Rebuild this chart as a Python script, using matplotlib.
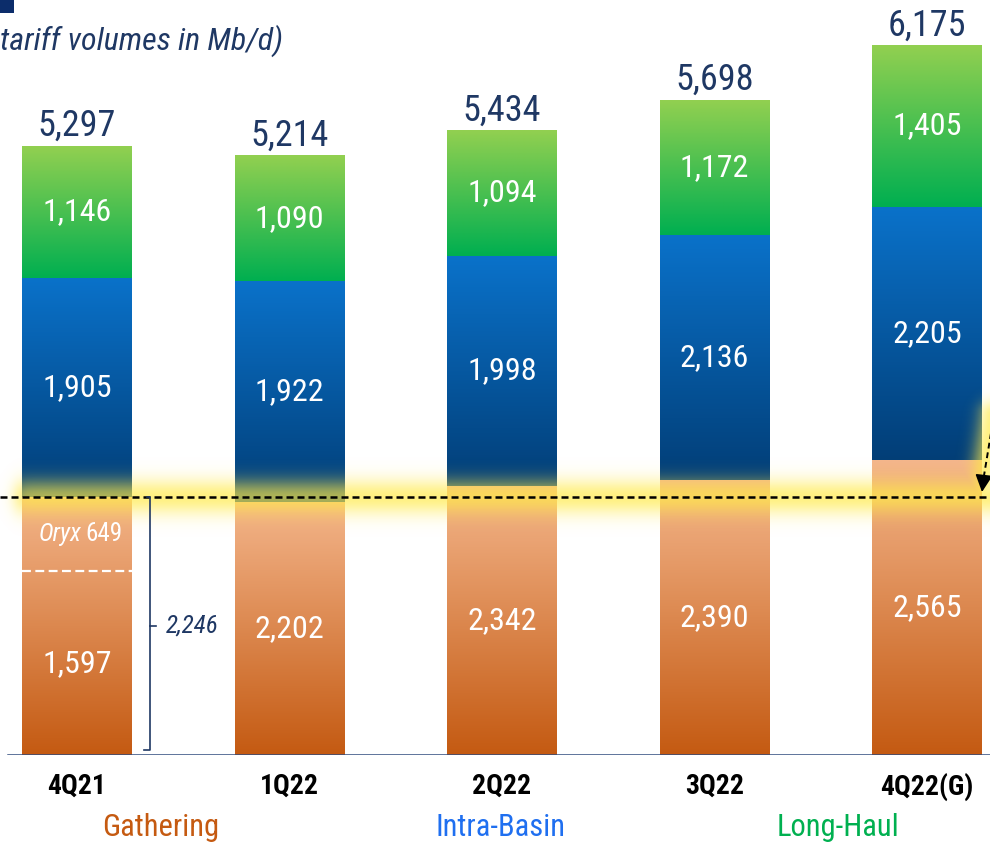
import numpy as np
import matplotlib
matplotlib.use("Agg")
import matplotlib.pyplot as plt
from matplotlib.colors import to_rgb
from matplotlib.patches import Rectangle
from matplotlib import font_manager

# ---- data (Mb/d) ----
quarters = ["4Q21", "1Q22", "2Q22", "3Q22", "4Q22(G)"]
gathering = [1597, 2202, 2342, 2390, 2565]
oryx = [649, 0, 0, 0, 0]
intra_basin = [1905, 1922, 1998, 2136, 2205]
long_haul = [1146, 1090, 1094, 1172, 1405]
oryx_pro_forma = 2246
series_names = ["Gathering", "Intra-Basin", "Long-Haul"]

# ---- fonts: prefer a narrow sans face ----
entries = font_manager.fontManager.ttflist
installed = {f.name for f in entries}
narrow_names = ["Liberation Sans Narrow", "Arial Narrow", "Roboto Condensed",
                "Open Sans Condensed", "Noto Sans Condensed", "DejaVu Sans Condensed"]
FAMILY = next((n for n in narrow_names if n in installed), None)
STRETCH = "normal"
if FAMILY is None:
    for fam in ["Liberation Sans", "Noto Sans", "Open Sans", "Roboto", "DejaVu Sans"]:
        if any(f.name == fam and str(f.stretch) in ("condensed", "semi-condensed")
               for f in entries):
            FAMILY, STRETCH = fam, "condensed"
            break
SCALE = 1.0
if FAMILY is None:
    FAMILY, SCALE = "Liberation Sans", 0.9
plt.rcParams["font.family"] = [FAMILY, "DejaVu Sans"]
plt.rcParams["font.stretch"] = STRETCH


def fs(v):
    return v * SCALE


NAVY = "#1F3864"
ORANGE = ("#F4B68C", "#C45A12")
BLUE = ("#0A72CA", "#023E77")
GREEN = ("#92D050", "#00AF50")

W, H = 990, 844
PX_PER_UNIT_X = 212.5
X0_PX = 77
BASE_PX = 755
PX_PER_MB = 710 / 6175

fig = plt.figure(figsize=(W / 100, H / 100), dpi=100)
ax = fig.add_axes([0, (H - BASE_PX) / H, 1, BASE_PX / H])
xl = -X0_PX / PX_PER_UNIT_X
ax.set_xlim(xl, xl + W / PX_PER_UNIT_X)
ax.set_ylim(0, BASE_PX / PX_PER_MB)
for s in ax.spines.values():
    s.set_visible(False)

x = np.arange(len(quarters))
width = 110 / PX_PER_UNIT_X


def gradient_fill(patch, colors, y_bot=None, y_top=None):
    bb = patch.get_bbox()
    y0 = bb.y0 if y_bot is None else y_bot
    y1 = bb.y1 if y_top is None else y_top
    t = np.linspace(0, 1, 256)[:, None, None]
    ct, cb = np.array(to_rgb(colors[0])), np.array(to_rgb(colors[1]))
    img = (1 - t) * ct + t * cb
    im = ax.imshow(img, extent=(bb.x0, bb.x1, y0, y1), origin="upper",
                   aspect="auto", interpolation="bilinear", zorder=1)
    im.set_clip_path(patch)


gath_arr = np.array(gathering)
oryx_arr = np.array(oryx)
intra_arr = np.array(intra_basin)
long_arr = np.array(long_haul)
gath_total = gath_arr + oryx_arr

b_gath = ax.bar(x, gath_arr, width, color="none", linewidth=0, zorder=1)
b_oryx = ax.bar(x, oryx_arr, width, bottom=gath_arr, color="none", linewidth=0, zorder=1)
b_intra = ax.bar(x, intra_arr, width, bottom=gath_total, color="none", linewidth=0, zorder=1)
b_long = ax.bar(x, long_arr, width, bottom=gath_total + intra_arr, color="none", linewidth=0, zorder=1)

for i in range(len(x)):
    gradient_fill(b_gath[i], ORANGE, 0, gath_total[i])
    if oryx_arr[i] > 0:
        gradient_fill(b_oryx[i], ORANGE, 0, gath_total[i])
    gradient_fill(b_intra[i], BLUE)
    gradient_fill(b_long[i], GREEN)

# segment labels
seg_kw = dict(ha="center", va="center", color="white", fontsize=fs(23), zorder=6)
for i in range(len(x)):
    ax.text(x[i], gath_arr[i] / 2, f"{gathering[i]:,}", **seg_kw)
    ax.text(x[i], gath_total[i] + intra_arr[i] / 2, f"{intra_basin[i]:,}", **seg_kw)
    ax.text(x[i], gath_total[i] + intra_arr[i] + long_arr[i] / 2, f"{long_haul[i]:,}", **seg_kw)

# Oryx segment of 4Q21
ax.hlines(gath_arr[0], x[0] - width / 2, x[0] + width / 2, colors="white",
          linewidth=1.6, linestyles=(0, (4, 2)), zorder=6)
oy = gath_arr[0] + oryx_arr[0] / 2
ax.text(x[0] + 0.022, oy, "Oryx", ha="right", va="center", color="white",
        fontsize=fs(18), fontstyle="italic", zorder=6)
ax.text(x[0] + 0.04, oy, f"{oryx[0]}", ha="left", va="center", color="white",
        fontsize=fs(18), zorder=6)

# totals
totals = gath_total + intra_arr + long_arr
for i in range(len(x)):
    ax.annotate(f"{totals[i]:,}", (x[i], totals[i]), xytext=(0, 7),
                textcoords="offset points", ha="center", va="baseline",
                fontsize=fs(26), color=NAVY, zorder=6)

# bracket for pro-forma gathering
xb = x[0] + (150 - X0_PX) / PX_PER_UNIT_X
ylow = 5 / PX_PER_MB
hook = 6 / PX_PER_UNIT_X
ax.plot([xb - hook * 0.5, xb, xb, xb - hook], [oryx_pro_forma, oryx_pro_forma, ylow, ylow],
        color=NAVY, lw=1.2, zorder=6, solid_joinstyle="round")
ax.plot([xb, xb + hook], [oryx_pro_forma / 2, oryx_pro_forma / 2], color=NAVY, lw=1.2, zorder=6)
ax.text(xb + 16 / PX_PER_UNIT_X, oryx_pro_forma / 2, f"{oryx_pro_forma:,}", ha="left",
        va="center", fontsize=fs(18), fontstyle="italic", color=NAVY, zorder=6)

# highlight glow along the pro-forma level and around the arrow
xlo, xhi = ax.get_xlim()
gy0, gy1 = 1500, 3400
gx = np.linspace(xlo, xhi, 600)
gyy = np.linspace(gy1, gy0, 300)
GX, GY = np.meshgrid(gx, gyy)
PX = X0_PX + GX * PX_PER_UNIT_X
PY = BASE_PX - GY * PX_PER_MB
line_py = BASE_PX - oryx_pro_forma * PX_PER_MB
band = np.exp(-0.5 * ((PY - line_py) / 12.5) ** 2)
band *= 1 / (1 + np.exp(-(PX - 14) / 4.0))
ax_s, ay_s = 994.0, 415.0
bx_s, by_s = 982.0, 492.0
vx, vy = bx_s - ax_s, by_s - ay_s
tt = np.clip(((PX - ax_s) * vx + (PY - ay_s) * vy) / (vx * vx + vy * vy), 0, 1)
dist = np.hypot(PX - (ax_s + tt * vx), PY - (ay_s + tt * vy))
blob = np.exp(-0.5 * (dist / 10.0) ** 2)
alpha = 0.68 * np.maximum(band, blob)
glow = np.zeros(GX.shape + (4,))
glow[..., 0] = 1.0
glow[..., 1] = 0.92
glow[..., 2] = 0.28
glow[..., 3] = alpha
ax.imshow(glow, extent=(xlo, xhi, gy0, gy1), origin="upper", aspect="auto",
          interpolation="bilinear", zorder=3)
ax.set_xlim(xlo, xhi)
ax.set_ylim(0, BASE_PX / PX_PER_MB)

# dashed reference line
ax.axhline(oryx_pro_forma, color="black", lw=1.8, dashes=(2.8, 1.6), zorder=4)


def to_data(px, py):
    return (px - X0_PX) / PX_PER_UNIT_X, (BASE_PX - py) / PX_PER_MB


# dashed arrow pointing to the 4Q22 gathering level
p_start = to_data(ax_s, ay_s)
p_mid = to_data(983.6, 478)
p_tip = to_data(bx_s, by_s)
ax.plot([p_start[0], p_mid[0]], [p_start[1], p_mid[1]], color="black", lw=1.4,
        dashes=(3, 2), zorder=5, clip_on=False)
ax.annotate("", xy=p_tip, xytext=p_mid,
            arrowprops=dict(arrowstyle="-|>,head_length=0.7,head_width=0.35",
                            color="black", lw=1.2, mutation_scale=15,
                            shrinkA=0, shrinkB=0),
            annotation_clip=False, zorder=5)

# baseline axis
ax.axhline(0, xmin=8 / W, xmax=1, color="#2E4A7D", lw=1.8, zorder=6)

ax.set_yticks([])
ax.set_xticks(x)
ax.set_xticklabels(quarters, fontsize=fs(20), fontweight="bold", color="black")
ax.tick_params(axis="x", length=0, pad=13)

# series key
key_colors = ["#C55A11", "#1F6FF0", "#00B050"]
key_x = [161, 500, 838]
for name, c, px in zip(series_names, key_colors, key_x):
    fig.text(px / W, 1 - 828 / H, name, ha="center", va="center", fontsize=fs(22), color=c)

# title and corner mark
fig.text(0 / W, 1 - 41 / H, "tariff volumes in Mb/d)", ha="left", va="center",
         fontsize=fs(23), fontstyle="italic", color=NAVY)
fig.patches.append(Rectangle((0, 1 - 12.5 / H), 14 / W, 12.5 / H, transform=fig.transFigure,
                             facecolor="#0C2D6B", edgecolor="none"))

fig.savefig("out.png", dpi=100)
